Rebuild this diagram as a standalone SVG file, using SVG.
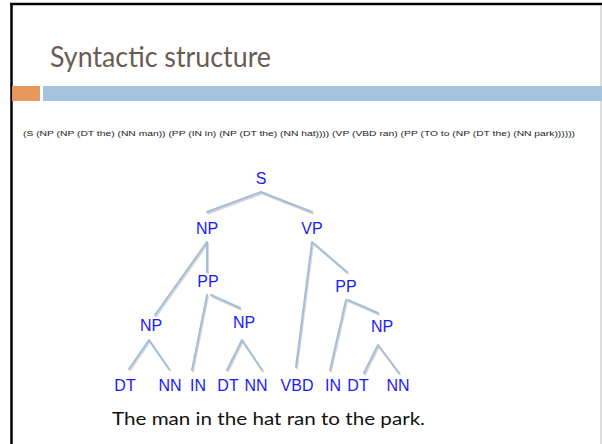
<svg xmlns="http://www.w3.org/2000/svg" width="602" height="444" viewBox="0 0 602 444">
<style>
.lbl{font-family:"Liberation Sans","DejaVu Sans",sans-serif;font-size:16px;fill:#1a1aff;text-anchor:middle}
.edge{stroke:#a3bfd9;stroke-width:2;fill:none;stroke-linecap:round}
.sh{stroke:#d6d6d6;stroke-width:2;fill:none;stroke-linecap:round}
</style>
<rect x="0" y="0" width="602" height="444" fill="#fff"/>
<line x1="10" y1="4" x2="602" y2="4" stroke="#000" stroke-width="2.5"/>
<line x1="11.5" y1="3" x2="11.5" y2="444" stroke="#000" stroke-width="2.5"/>
<line x1="601" y1="5" x2="601" y2="444" stroke="#bbb" stroke-width="1"/>
<text x="50" y="67" font-family="Lato,'Liberation Sans',sans-serif" font-size="28" fill="#6b5b54" textLength="221" lengthAdjust="spacingAndGlyphs">Syntactic structure</text>
<rect x="12" y="86" width="28" height="15" fill="#e7965c"/>
<rect x="43" y="86" width="559" height="15" fill="#a6c3dc"/>
<text x="23" y="136" font-family="'Liberation Sans',sans-serif" font-size="7.5" fill="#222" textLength="552" lengthAdjust="spacingAndGlyphs">(S (NP (NP (DT the) (NN man)) (PP (IN in) (NP (DT the) (NN hat)))) (VP (VBD ran) (PP (TO to (NP (DT the) (NN park))))))</text>
<g id="connectors">
<g transform="translate(1,1.5)">
<path class="sh" d="M261 192L207 212M261 192L312 212M207 242L155 315M207 242L207 272M312 242L296 367M312 242L347 272M149 340L129 369M149 340L169 369M207 295L192 370M211 295L240 308M242 340L227 370M242 340L262 370M346 300L330 370M348 300L378 313M378 345L364 373M378 345L399 373"/>
</g>
<path class="edge" d="M261 192L207 212M261 192L312 212M207 242L155 315M207 242L207 272M312 242L296 367M312 242L347 272M149 340L129 369M149 340L169 369M207 295L192 370M211 295L240 308M242 340L227 370M242 340L262 370M346 300L330 370M348 300L378 313M378 345L364 373M378 345L399 373"/>
</g>
<g id="n-S"><text class="lbl" x="261" y="184">S</text></g>
<g id="n-NP1"><text class="lbl" x="207" y="234">NP</text></g>
<g id="n-VP"><text class="lbl" x="312" y="234">VP</text></g>
<g id="n-PP1"><text class="lbl" x="208" y="287">PP</text></g>
<g id="n-PP2"><text class="lbl" x="346" y="292">PP</text></g>
<g id="n-NP2"><text class="lbl" x="151" y="331">NP</text></g>
<g id="n-NP3"><text class="lbl" x="244" y="328">NP</text></g>
<g id="n-NP4"><text class="lbl" x="382" y="332">NP</text></g>
<g id="n-DT1"><text class="lbl" x="125" y="391">DT</text></g>
<g id="n-NN1"><text class="lbl" x="170" y="391">NN</text></g>
<g id="n-IN1"><text class="lbl" x="198" y="391">IN</text></g>
<g id="n-DT2"><text class="lbl" x="228" y="391">DT</text></g>
<g id="n-NN2"><text class="lbl" x="256" y="391">NN</text></g>
<g id="n-VBD"><text class="lbl" x="297" y="391">VBD</text></g>
<g id="n-IN2"><text class="lbl" x="333" y="391">IN</text></g>
<g id="n-DT3"><text class="lbl" x="358" y="391">DT</text></g>
<g id="n-NN3"><text class="lbl" x="398" y="391">NN</text></g>
<text x="112" y="425" font-family="Lato,'Liberation Sans',sans-serif" font-size="17.5" fill="#111" textLength="313" lengthAdjust="spacingAndGlyphs">The man in the hat ran to the park.</text>
</svg>
